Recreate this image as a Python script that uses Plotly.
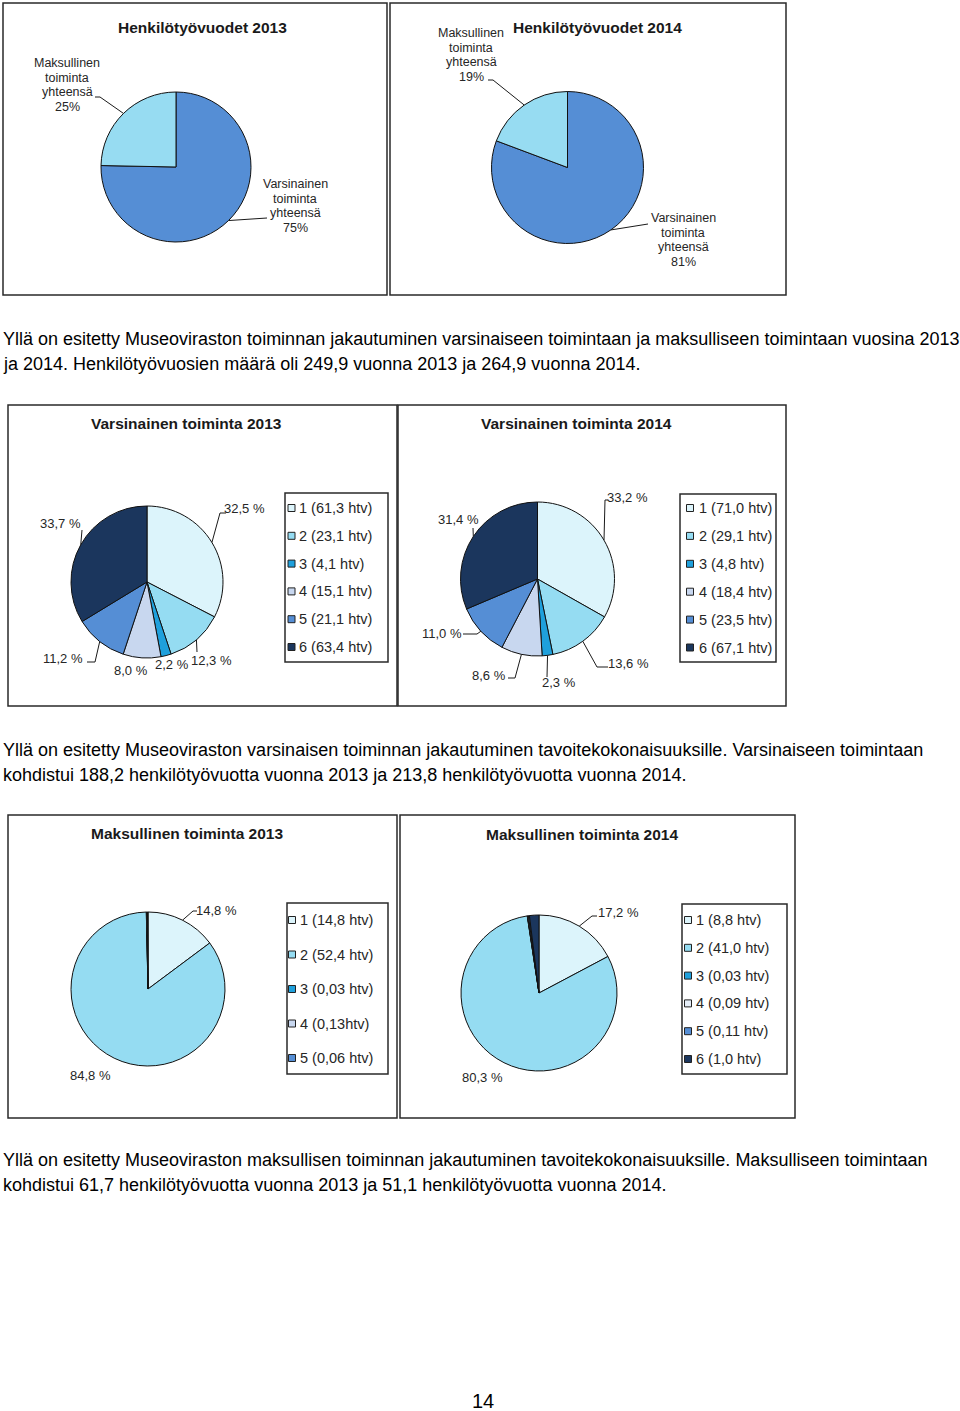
import math
import plotly.graph_objects as go

W, H = 960, 1411

# ---------------- data ----------------
hv_labels = ["Varsinainen toiminta yhteensä", "Maksullinen toiminta yhteensä"]
hv_2013 = [188.2, 61.7]
hv_2014 = [213.8, 51.1]
hv_pct_2013 = ["75%", "25%"]
hv_pct_2014 = ["81%", "19%"]

var_2013_htv = [61.3, 23.1, 4.1, 15.1, 21.1, 63.4]
var_2013_pct = [32.5, 12.3, 2.2, 8.0, 11.2, 33.7]
var_2014_htv = [71.0, 29.1, 4.8, 18.4, 23.5, 67.1]
var_2014_pct = [33.2, 13.6, 2.3, 8.6, 11.0, 31.4]

mak_2013_legend = ["1 (14,8 htv)", "2 (52,4 htv)", "3 (0,03 htv)", "4 (0,13htv)", "5 (0,06 htv)"]
mak_2013_share = [14.8, 84.8, 0.05, 0.2, 0.1]   # pie shares as drawn (%), small ones estimated
mak_2013_pct_labels = ["14,8 %", "84,8 %"]
mak_2014_htv = [8.8, 41.0, 0.03, 0.09, 0.11, 1.0]
mak_2014_legend = ["1 (8,8 htv)", "2 (41,0 htv)", "3 (0,03 htv)", "4 (0,09 htv)", "5 (0,11 htv)", "6 (1,0 htv)"]
mak_2014_pct_labels = ["17,2 %", "80,3 %"]

C1, C2, C3, C4, C5, C6 = "#DCF4FB", "#95DCF2", "#1FA0DC", "#C8D7EF", "#558ED5", "#1B365D"
var_colors = [C1, C2, C3, C4, C5, C6]
mak13_colors = [C1, C2, C3, C4, C5]
mak14_colors = [C1, C2, C3, "#E6EEF8", C5, C6]
hv_colors = ["#558ED5", "#97DCF2"]


def fmt(v):
    return f"{v:.1f}".replace(".", ",")


def htv_legend(vals):
    return [f"{i+1} ({fmt(v)} htv)" for i, v in enumerate(vals)]


# ---------------- helpers ----------------
def X(px):
    return px / W


def Y(py):
    return 1 - py / H


fig = go.Figure()
shapes = []
annotations = []

FONT = "Liberation Sans, Arial, sans-serif"
TXT = "#262626"


def box(x0, y0, x1, y1):
    shapes.append(dict(type="rect", xref="paper", yref="paper", x0=X(x0), x1=X(x1),
                       y0=Y(y1), y1=Y(y0), line=dict(color="#2a2a2a", width=1.5),
                       fillcolor="rgba(0,0,0,0)"))


def title(text, cx, cy):
    annotations.append(dict(text=f"<b>{text}</b>", x=X(cx), y=Y(cy), xref="paper", yref="paper",
                            showarrow=False, xanchor="center", yanchor="middle",
                            font=dict(family=FONT, size=15.5, color="#1a1a1a")))


def pie(values, colors, cx, cy, r):
    fig.add_trace(go.Pie(values=values, marker=dict(colors=colors, line=dict(color="#111", width=1)),
                         sort=False, direction="clockwise", rotation=0, textinfo="none",
                         hoverinfo="skip", showlegend=False,
                         domain=dict(x=[X(cx - r), X(cx + r)], y=[Y(cy + r), Y(cy - r)])))


def mid_angles(values):
    tot = sum(values)
    out, c = [], 0
    for v in values:
        out.append((c + v / 2) / tot * 360)
        c += v
    return out


def edge_point(values, idx, cx, cy, r):
    a = math.radians(mid_angles(values)[idx])
    return cx + r * math.sin(a), cy - r * math.cos(a)


def label(text, tx, ty, size=13):
    annotations.append(dict(text=text, x=X(tx), y=Y(ty), xref="paper", yref="paper",
                            showarrow=False, xanchor="center", yanchor="middle",
                            font=dict(family=FONT, size=size, color=TXT)))


def multiline(lines, tx, ty_first, step=14.6, size=12.5):
    for i, t in enumerate(lines):
        label(t, tx, ty_first + i * step, size)


def leader(values, idx, cx, cy, r, pts):
    ex, ey = edge_point(values, idx, cx, cy, r)
    path = f"M {X(ex)},{Y(ey)} " + " ".join(f"L {X(px)},{Y(py)}" for px, py in pts)
    shapes.append(dict(type="path", xref="paper", yref="paper", path=path,
                       line=dict(color="#1a1a1a", width=1)))


def legend_box(items, colors, x0, y0, x1, y1, first_row, step, mx, tx):
    box(x0, y0, x1, y1)
    for i, (t, c) in enumerate(zip(items, colors)):
        yy = first_row + i * step
        shapes.append(dict(type="rect", xref="paper", yref="paper",
                           x0=X(mx - 3.5), x1=X(mx + 3.5), y0=Y(yy + 3.5), y1=Y(yy - 3.5),
                           fillcolor=c, line=dict(color="#222", width=1)))
        annotations.append(dict(text=t, x=X(tx), y=Y(yy), xref="paper", yref="paper",
                                showarrow=False, xanchor="left", yanchor="middle",
                                font=dict(family=FONT, size=14.5, color=TXT)))


def para(lines, y_first, step=25):
    for i, t in enumerate(lines):
        annotations.append(dict(text=t, x=X(1), y=Y(y_first + i * step), xref="paper", yref="paper",
                                showarrow=False, xanchor="left", yanchor="middle",
                                font=dict(family="Liberation Sans, Arial, sans-serif",
                                          size=18, color="#000")))


# ---------------- section 1: Henkilötyövuodet ----------------
box(3, 3, 387, 295)
box(390, 3, 786, 295)
title("Henkilötyövuodet 2013", 202, 27)
title("Henkilötyövuodet 2014", 597, 27)

pie(hv_2013, hv_colors, 176, 167, 75)
leader(hv_2013, 1, 176, 167, 75, [(100, 97), (95, 97)])
leader(hv_2013, 0, 176, 167, 75, [(267, 218)])
multiline(["Maksullinen", "toiminta", "yhteensä", hv_pct_2013[1]], 67, 63)
multiline(["Varsinainen", "toiminta", "yhteensä", hv_pct_2013[0]], 295, 184)

pie(hv_2014, hv_colors, 567.5, 167.5, 76)
leader(hv_2014, 1, 567.5, 167.5, 76, [(493, 80), (488, 80)])
leader(hv_2014, 0, 567.5, 167.5, 76, [(648, 224)])
multiline(["Maksullinen", "toiminta", "yhteensä", hv_pct_2014[1]], 471, 33)
multiline(["Varsinainen", "toiminta", "yhteensä", hv_pct_2014[0]], 683, 218)

para(["Yllä on esitetty Museoviraston toiminnan jakautuminen varsinaiseen toimintaan ja maksulliseen toimintaan vuosina 2013",
      "ja 2014. Henkilötyövuosien määrä oli 249,9 vuonna 2013 ja 264,9 vuonna 2014."], 339)

# ---------------- section 2: Varsinainen toiminta ----------------
box(8, 405, 397, 706)
box(398, 405, 786, 706)
title("Varsinainen toiminta 2013", 186, 423)
title("Varsinainen toiminta 2014", 576, 423)

cx, cy, r = 147, 582, 76
pie(var_2013_htv, var_colors, cx, cy, r)
v13_pos = [(245, 508), (211, 660), (172, 664), (131, 670), (63, 658), (60, 523)]
v13_lines = [[(220, 513), (226, 513)], [(197, 652)], None, None, [(95, 662), (87, 662)], [(82, 530)]]
for i, p in enumerate(var_2013_pct):
    label(fmt(p) + " %", *v13_pos[i])
    if v13_lines[i]:
        leader(var_2013_htv, i, cx, cy, r, v13_lines[i])
legend_box(htv_legend(var_2013_htv), var_colors, 285, 493, 388, 662, 508, 27.8, 291.5, 297)

cx, cy, r = 537.5, 579, 77
pie(var_2014_htv, var_colors, cx, cy, r)
v14_pos = [(627, 497), (628, 663), (559, 682), (489, 675), (442, 633), (458, 520)]
v14_lines = [[(605, 500), (608, 500)], [(597, 667), (608, 667)], [(547, 677)],
             [(515, 678), (508, 678)], [(477, 634), (463, 634)], [(473, 528)]]
for i, p in enumerate(var_2014_pct):
    label(fmt(p) + " %", *v14_pos[i])
    if v14_lines[i]:
        leader(var_2014_htv, i, cx, cy, r, v14_lines[i])
legend_box(htv_legend(var_2014_htv), var_colors, 680, 494, 776, 662, 508, 27.9, 690, 697)

para(["Yllä on esitetty Museoviraston varsinaisen toiminnan jakautuminen tavoitekokonaisuuksille. Varsinaiseen toimintaan",
      "kohdistui 188,2 henkilötyövuotta vuonna 2013 ja 213,8 henkilötyövuotta vuonna 2014."], 750)

# ---------------- section 3: Maksullinen toiminta ----------------
box(8, 815, 397, 1118)
box(400, 815, 795, 1118)
title("Maksullinen toiminta 2013", 187, 833)
title("Maksullinen toiminta 2014", 582, 834)

cx, cy, r = 148, 989, 77
pie(mak_2013_share, mak13_colors, cx, cy, r)
label(mak_2013_pct_labels[0], 216, 910)
leader(mak_2013_share, 0, cx, cy, r, [(193, 911), (197, 911)])
label(mak_2013_pct_labels[1], 90, 1075)
legend_box(mak_2013_legend, mak13_colors, 287, 903, 388, 1074, 920, 34.5, 292, 298)

cx, cy, r = 539, 993, 78
pie(mak_2014_htv, mak14_colors, cx, cy, r)
label(mak_2014_pct_labels[0], 618, 912)
leader(mak_2014_htv, 0, cx, cy, r, [(592, 916), (597, 916)])
label(mak_2014_pct_labels[1], 482, 1077)
legend_box(mak_2014_legend, mak14_colors, 682, 904, 787, 1074, 920, 27.8, 688, 694)

para(["Yllä on esitetty Museoviraston maksullisen toiminnan jakautuminen tavoitekokonaisuuksille. Maksulliseen toimintaan",
      "kohdistui 61,7 henkilötyövuotta vuonna 2013 ja 51,1 henkilötyövuotta vuonna 2014."], 1160)

annotations.append(dict(text="14", x=X(483), y=Y(1401), xref="paper", yref="paper", showarrow=False,
                        xanchor="center", yanchor="middle",
                        font=dict(family="Liberation Sans, Arial, sans-serif", size=20, color="#000")))

fig.update_layout(width=W, height=H, margin=dict(l=0, r=0, t=0, b=0),
                  paper_bgcolor="white", plot_bgcolor="white",
                  shapes=shapes, annotations=annotations, showlegend=False)

fig.write_html("out.html", config=dict(displayModeBar=False),
               post_script="document.body.style.margin='0';document.body.style.overflow='hidden';")
